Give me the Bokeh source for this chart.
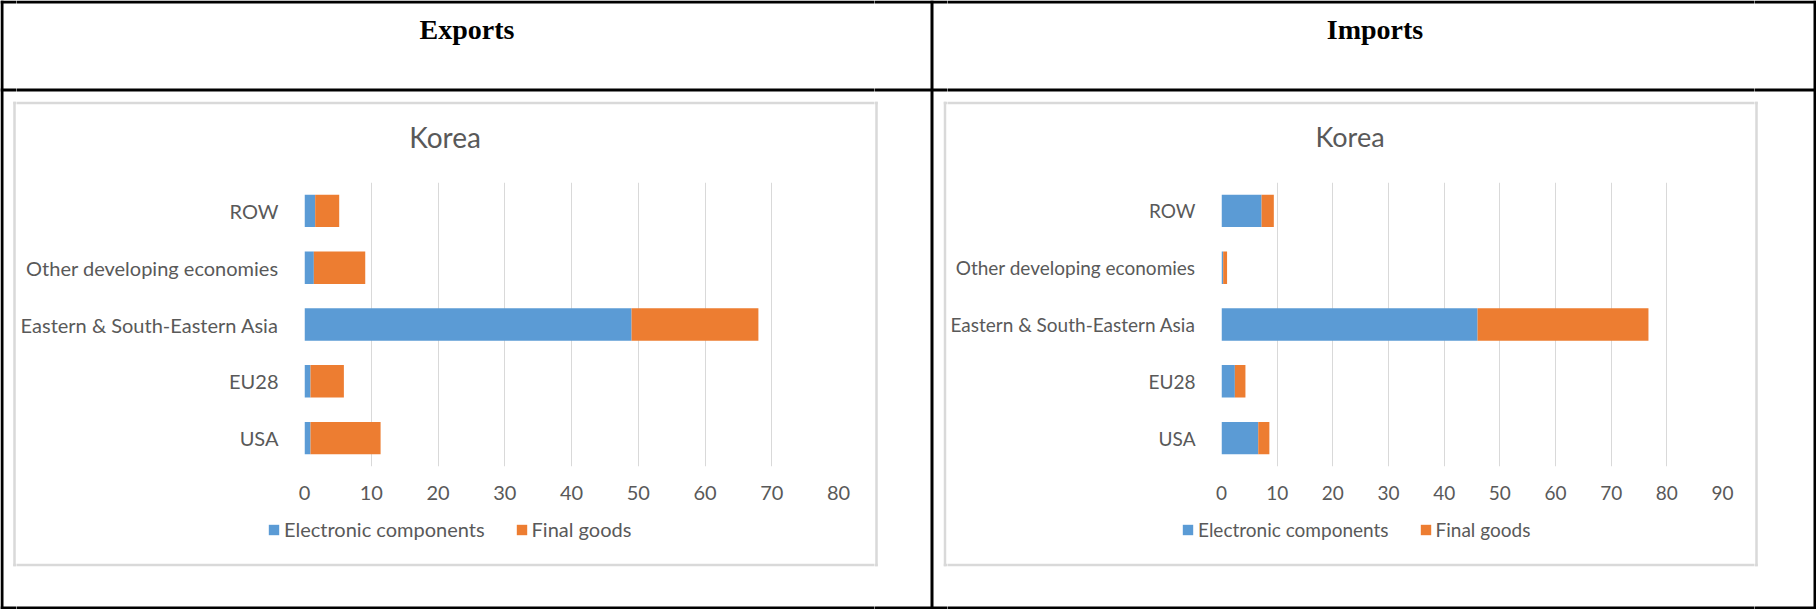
from bokeh.plotting import figure
from bokeh.models import (Range1d, ColumnDataSource, FixedTicker, Legend,
                          LegendItem, SingleIntervalTicker)
from bokeh.core.properties import value
from bokeh.layouts import row, column
from bokeh.embed import file_html
from bokeh.resources import INLINE

# ---------------- data ----------------
regions = ["USA", "EU28", "Eastern & South-Eastern Asia",
           "Other developing economies", "ROW"]
series = ["Electronic components", "Final goods"]
export_components = [0.9, 0.9, 49.0, 1.4, 1.6]
export_final = [10.5, 5.0, 19.0, 7.7, 3.6]
import_components = [6.6, 2.4, 46.0, 0.3, 7.2]
import_final = [2.0, 1.9, 30.7, 0.7, 2.2]
export_xmax = 80
import_xmax = 90
headers = ["Exports", "Imports"]
chart_title = "Korea"

colors = ["#5B9BD5", "#ED7D31"]
TEXT = "#595959"
GRID = "#d9d9d9"
FONT = "Lato"
PAGE_W, PAGE_H = 1816, 609
Y_TOP, Y_BOT = 170, 515          # vertical extent of the chart figures
LINE = 3                          # black table line width
GW = 2.5                          # gray chart-frame line width
BOX_T, BOX_B = 102.5, 564.5       # gray chart frames (line centres)
BOXES_X = [(14, 876), (944.5, 1756)]

# table rules (page pixels): (left, right, top, bottom)
BLACK = [(0, PAGE_W, 0, LINE), (0, PAGE_W, 88, 88 + LINE),
         (0, PAGE_W, PAGE_H - LINE, PAGE_H),
         (0, LINE, 0, PAGE_H), (930, 933, 0, PAGE_H),
         (PAGE_W - LINE, PAGE_W, 0, PAGE_H)]


def no_align(p):
    try:
        p.frame_align = False
    except Exception:
        pass
    return p


def decor(x0, x1, y0, y1):
    """Blank figure whose data coordinates are page pixels; draws the table
    rules and the gray chart frames (clipped to its own extent)."""
    p = figure(width=x1 - x0, height=y1 - y0, x_range=Range1d(x0, x1),
               y_range=Range1d(y1, y0), min_border=0, toolbar_location=None,
               output_backend="svg", x_axis_location=None, y_axis_location=None)
    no_align(p)
    p.outline_line_color = None
    p.grid.visible = False
    p.background_fill_color = "white"
    p.border_fill_color = "white"
    g = GW / 2
    for bl, br in BOXES_X:
        p.quad(left=[bl - g, bl - g, bl - g, br - g],
               right=[br + g, br + g, bl + g, br + g],
               top=[BOX_T - g, BOX_B - g, BOX_T - g, BOX_T - g],
               bottom=[BOX_T + g, BOX_B + g, BOX_B + g, BOX_B + g],
               fill_color=GRID, line_color=None)
    p.quad(left=[b[0] for b in BLACK], right=[b[1] for b in BLACK],
           top=[b[2] for b in BLACK], bottom=[b[3] for b in BLACK],
           fill_color="black", line_color=None)
    return p


def make_source(cfg):
    pos = list(range(len(regions)))
    return pos, ColumnDataSource(dict(pos=pos, region=regions,
                                      comp=cfg["comp"], final=cfg["final"]))


def chart(cfg):
    cx0, cx1 = cfg["cx"]
    fl, fr = cfg["frame_x"]
    ft, fb = 182, 466
    pos, src = make_source(cfg)
    p = figure(width=cx1 - cx0, height=Y_BOT - Y_TOP,
               y_range=Range1d(-0.5, len(regions) - 0.5),
               x_range=Range1d(0, cfg["xmax"]), output_backend="svg",
               toolbar_location=None, min_border_left=fl - cx0,
               min_border_right=cx1 - fr, min_border_top=ft - Y_TOP,
               min_border_bottom=Y_BOT - fb)
    no_align(p)
    p.outline_line_color = None
    p.background_fill_color = "white"
    p.border_fill_color = "white"

    p.hbar_stack(["comp", "final"], y="pos", height=0.57, source=src,
                 fill_color=colors, line_color=None)

    fs = cfg["font"]
    p.xaxis.ticker = SingleIntervalTicker(interval=10, num_minor_ticks=0)
    p.yaxis.ticker = FixedTicker(ticks=pos)
    p.yaxis.major_label_overrides = {i: r for i, r in zip(pos, regions)}
    for ax in (p.xaxis, p.yaxis):
        ax.axis_line_color = None
        ax.major_tick_line_color = None
        ax.minor_tick_line_color = None
        ax.major_label_text_font = FONT
        ax.major_label_text_font_size = fs
        ax.major_label_text_color = TEXT
    p.xaxis.major_label_standoff = 13
    p.yaxis.major_label_standoff = 20
    p.xgrid.grid_line_color = GRID
    p.xgrid.grid_line_width = 1
    p.ygrid.grid_line_color = None
    return p


def center_column(cfg):
    cx0, cx1 = cfg["cx"]

    top = decor(cx0, cx1, 0, Y_TOP)
    top.text(x=[cfg["header_x"]], y=[29], text=[cfg["header"]],
             text_font=value("Liberation Serif"), text_font_style="bold",
             text_font_size="28px", text_color="black", text_align="center",
             text_baseline="alphabetic")
    top.text(x=[cfg["title_x"]], y=[136], text=[chart_title],
             text_font=value(FONT), text_font_size=cfg["title_font"],
             text_color=TEXT, text_align="center", text_baseline="alphabetic")

    bot = decor(cx0, cx1, Y_BOT, PAGE_H)
    # legend of the same stacked series (the copy itself is not shown)
    _, lsrc = make_source(cfg)
    rs = bot.hbar_stack(["comp", "final"], y="pos", height=0.57, source=lsrc,
                        fill_color=colors, line_color=None)
    for r in rs:
        r.visible = False
    lg = Legend(items=[LegendItem(label=s, renderers=[r]) for s, r in zip(series, rs)],
                orientation="horizontal",
                location=(cfg["legend_x"] - cx0, PAGE_H - 541),
                glyph_width=13, glyph_height=13, label_height=13,
                label_standoff=4, spacing=30, padding=0, margin=0,
                border_line_color=None, background_fill_alpha=0,
                label_text_font=FONT, label_text_font_size=cfg["font"],
                label_text_color=TEXT, click_policy="none")
    bot.add_layout(lg, "center")

    return column(top, chart(cfg), bot)


exports = center_column(dict(
    cx=(16, 874), frame_x=(304, 838), comp=export_components,
    final=export_final, xmax=export_xmax, font="20px", title_font="28px",
    legend_x=267, header=headers[0], header_x=466.5, title_x=444.5))
imports = center_column(dict(
    cx=(947, 1754), frame_x=(1218, 1722), comp=import_components,
    final=import_final, xmax=import_xmax, font="19px", title_font="27px",
    legend_x=1181, header=headers[1], header_x=1374.5, title_x=1349.5))

layout = row(decor(0, 16, 0, PAGE_H), exports, decor(874, 947, 0, PAGE_H),
             imports, decor(1754, PAGE_W, 0, PAGE_H))
open("out.html", "w").write(file_html(layout, INLINE))
